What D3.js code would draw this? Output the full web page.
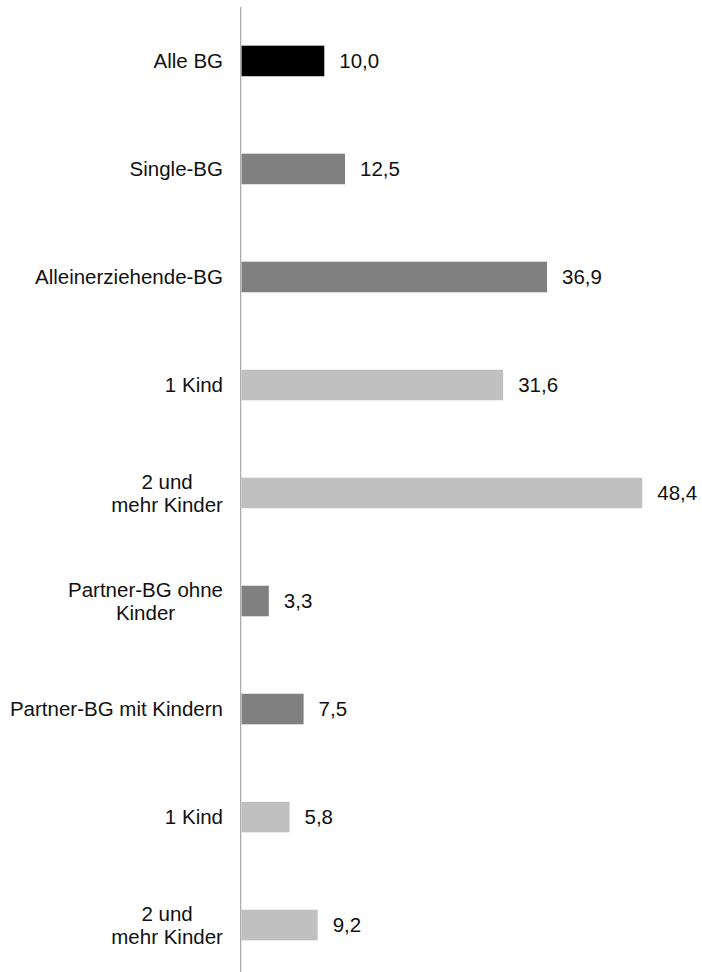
<!DOCTYPE html>
<html>
<head>
<meta charset="utf-8">
<script src="https://cdn.jsdelivr.net/npm/d3@7"></script>
<style>
  html, body { margin: 0; padding: 0; background: #fff; }
  svg { display: block; }
  text { font-family: "Liberation Sans", Arial, sans-serif; fill: #111; }
</style>
</head>
<body>
<svg id="chart" width="702" height="972"></svg>
<script>
// Bedarfsgemeinschaften (BG) by type, share in percent
const categories = [
  "Alle BG",
  "Single-BG",
  "Alleinerziehende-BG",
  "1 Kind",
  "2 und\nmehr Kinder",
  "Partner-BG ohne\nKinder",
  "Partner-BG mit Kindern",
  "1 Kind",
  "2 und\nmehr Kinder"
];
const values = [10.0, 12.5, 36.9, 31.6, 48.4, 3.3, 7.5, 5.8, 9.2];
// level of each row: overall total, household type, number of children
const levels = ["total", "type", "type", "children", "children", "type", "type", "children", "children"];

const width = 702, height = 972;
const axisX = 241.5;
const fontSize = 20.5;

const svg = d3.select("#chart");

const rows = categories.map((c, i) => ({ id: i, label: c, value: values[i], level: levels[i] }));

const y = d3.scaleBand()
  .domain(rows.map(d => d.id))
  .range([7, 979])
  .paddingInner(0.717)
  .paddingOuter(0.358);

const x = d3.scaleLinear()
  .domain([0, 50])
  .range([axisX, axisX + 414]);

const color = d3.scaleOrdinal()
  .domain(["total", "type", "children"])
  .range(["#000000", "#808080", "#c0c0c0"]);

const fmt = v => d3.format(".1f")(v).replace(".", ",");

// bars
svg.append("g")
  .selectAll("rect")
  .data(rows)
  .join("rect")
  .attr("x", x(0))
  .attr("y", d => y(d.id))
  .attr("width", d => x(d.value) - x(0))
  .attr("height", y.bandwidth())
  .attr("fill", d => color(d.level));

// vertical category axis line
svg.append("line")
  .attr("x1", axisX - 0.8).attr("x2", axisX - 0.8)
  .attr("y1", 7).attr("y2", height)
  .attr("stroke", "#a6a6a6")
  .attr("stroke-width", 1.2);

// category labels (centred block, right-aligned against the axis)
const labelG = svg.append("g");
rows.forEach(d => {
  const lines = d.label.split("\n");
  const cy = y(d.id) + y.bandwidth() / 2;
  const lh = 23;
  const t = labelG.append("text")
    .attr("font-size", fontSize)
    .attr("text-anchor", "middle");
  lines.forEach((ln, k) => {
    t.append("tspan")
      .attr("x", 0)
      .attr("y", cy + 7.3 + (k - (lines.length - 1) / 2) * lh)
      .text(ln);
  });
  const w = t.node().getBBox().width;
  t.attr("transform", `translate(${axisX - 18.5 - w / 2},0)`);
});

// value labels
svg.append("g")
  .selectAll("text")
  .data(rows)
  .join("text")
  .attr("x", d => x(d.value) + 15)
  .attr("y", d => y(d.id) + y.bandwidth() / 2 + 7.3)
  .attr("font-size", fontSize)
  .text(d => fmt(d.value));
</script>
</body>
</html>
